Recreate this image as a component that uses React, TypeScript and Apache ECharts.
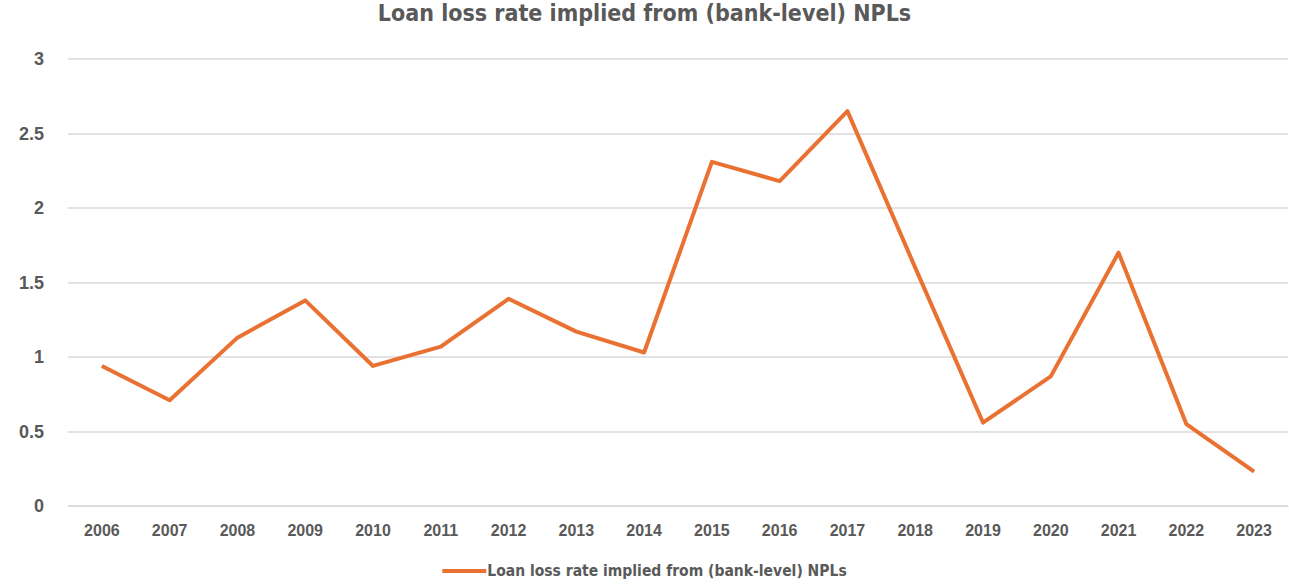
import React, { useEffect, useRef } from "react";
import * as echarts from "echarts";

const years = ["2006","2007","2008","2009","2010","2011","2012","2013","2014","2015","2016","2017","2018","2019","2020","2021","2022","2023"];
const lossRate = [0.94,0.71,1.13,1.38,0.94,1.07,1.39,1.17,1.03,2.31,2.18,2.65,1.6,0.56,0.87,1.7,0.55,0.23];
const seriesName = "Loan loss rate implied from (bank-level) NPLs";
const titleText = "Loan loss rate implied from (bank-level) NPLs";

export default function App() {
  const ref = useRef<HTMLDivElement>(null);
  useEffect(() => {
    const chart = echarts.init(ref.current!, null, { renderer: "svg" });
    const narrow = "'DejaVu Sans Condensed', 'Liberation Sans Narrow', sans-serif";
    chart.setOption({
      animation: false,
      backgroundColor: "#fff",
      title: {
        text: titleText,
        left: "center",
        top: -4,
        textStyle: { fontFamily: narrow, fontSize: 23, fontWeight: "bold", color: "#595959" },
      },
      legend: {
        bottom: 4,
        left: "center",
        itemWidth: 44,
        itemHeight: 4,
        icon: "rect",
        itemGap: 4,
        textStyle: { fontFamily: narrow, fontSize: 15.5, fontWeight: "bold", color: "#595959", padding: [0, 0, 0, -4] },
        data: [seriesName],
      },
      grid: { left: 68, right: 1, top: 59, bottom: 82 },
      xAxis: {
        type: "category",
        data: years,
        boundaryGap: true,
        axisLine: { show: true, lineStyle: { color: "#D9D9D9", width: 1 } },
        axisTick: { show: false },
        axisLabel: { fontFamily: "'Liberation Sans', Arial, sans-serif", fontSize: 16, fontWeight: "bold", color: "#595959", margin: 16 },
      },
      yAxis: {
        type: "value",
        min: 0,
        max: 3,
        interval: 0.5,
        axisLine: { show: false },
        axisTick: { show: false },
        splitLine: { lineStyle: { color: "#D9D9D9", width: 1.5 } },
        axisLabel: { fontFamily: "'Liberation Sans', Arial, sans-serif", fontSize: 18, fontWeight: "bold", color: "#595959", margin: 24 },
      },
      series: [
        {
          name: seriesName,
          type: "line",
          data: lossRate,
          symbol: "none",
          lineStyle: { color: "#E97132", width: 4, join: "round" },
          itemStyle: { color: "#E97132" },
        },
      ],
    });
    return () => chart.dispose();
  }, []);
  return <div ref={ref} style={{ width: 1289, height: 588, position: "absolute", left: 0, top: 0 }} />;
}
